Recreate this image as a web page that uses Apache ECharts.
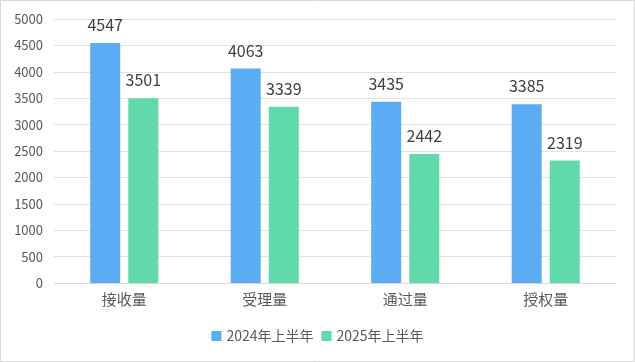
<!DOCTYPE html>
<html><head><meta charset="utf-8">
<script src="https://cdn.jsdelivr.net/npm/echarts@6/dist/echarts.min.js"></script>
<style>html,body{margin:0;padding:0;background:#fff}#c{width:635px;height:362px}</style>
</head><body><div id="c"></div>
<script>
const categories = ['接收量', '受理量', '通过量', '授权量'];
const series2024 = [4547, 4063, 3435, 3385];
const series2025 = [3501, 3339, 2442, 2319];
const seriesNames = ['2024年上半年', '2025年上半年'];
const yTicks = {min: 0, max: 5000, interval: 500};

const chart = echarts.init(document.getElementById('c'));
const font = '"Noto Sans CJK SC", "Noto Sans", sans-serif';
const lbl = {show: true, position: 'top', distance: 10, fontSize: 16, color: '#404040', fontFamily: font};
chart.setOption({
  animation: false,
  graphic: [{type: 'rect', shape: {x: 0.5, y: 0.5, width: 634, height: 361}, style: {fill: 'none', stroke: '#d9d9d9', lineWidth: 1}}],
  grid: {left: 54, right: 19, top: 19, bottom: 79},
  legend: {
    bottom: 14, left: 'center', itemWidth: 10, itemHeight: 10, itemGap: 8,
    icon: 'rect',
    textStyle: {fontSize: 14, color: '#595959', fontFamily: font},
    data: seriesNames
  },
  xAxis: {
    type: 'category', data: categories,
    axisLine: {lineStyle: {color: '#d9d9d9'}},
    axisTick: {show: false},
    axisLabel: {fontSize: 15, color: '#595959', margin: 9, fontFamily: font}
  },
  yAxis: {
    type: 'value', min: yTicks.min, max: yTicks.max, interval: yTicks.interval,
    axisLine: {show: false}, axisTick: {show: false},
    splitLine: {lineStyle: {color: '#e3e3e3'}},
    axisLabel: {fontSize: 13, color: '#595959', margin: 11, fontFamily: font, formatter: v => String(v)}
  },
  series: [
    {name: seriesNames[0], type: 'bar', data: series2024, barWidth: 30, barGap: '27%', itemStyle: {color: '#5aadf5'}, label: lbl},
    {name: seriesNames[1], type: 'bar', data: series2025, barWidth: 30, itemStyle: {color: '#60d9ab'}, label: lbl}
  ]
});
</script></body></html>
